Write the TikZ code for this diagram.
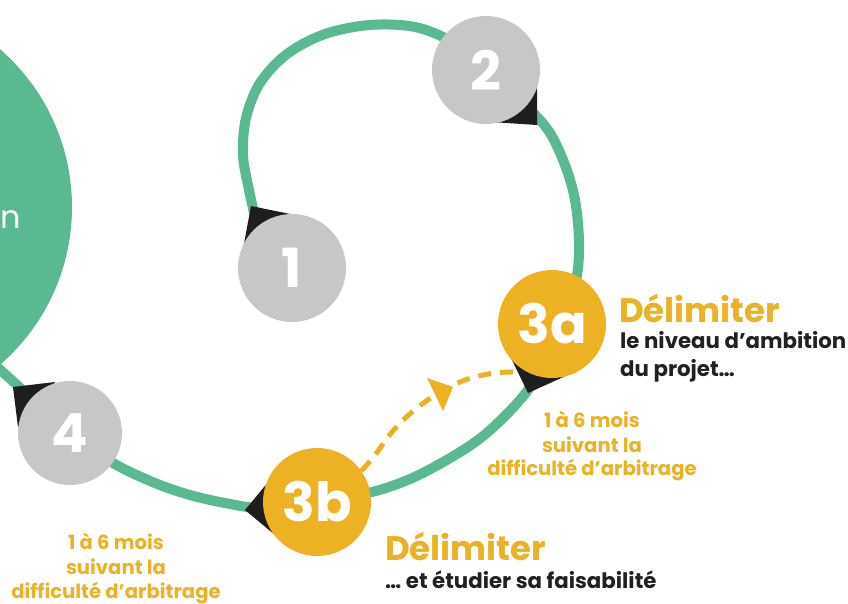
\documentclass[tikz,border=0pt]{standalone}
\usepackage{fontspec}
\setmainfont{Poppins}
\usetikzlibrary{backgrounds}
\definecolor{vert}{RGB}{91,185,145}
\definecolor{jaune}{RGB}{237,177,36}
\definecolor{gris}{RGB}{199,199,197}
\definecolor{noir}{RGB}{30,30,30}
\definecolor{texte}{RGB}{33,33,33}
\begin{document}
\begin{tikzpicture}[x=1pt,y=-1pt,
  num/.style={circle, minimum size=108pt, inner sep=0pt, text=white, font=\bfseries\fontsize{54}{54}\selectfont},
  gline/.style={draw=vert, line width=10pt},
  dline/.style={draw=jaune, line width=5pt, dash pattern=on 13pt off 9pt},
  tri/.style={fill=noir},
  ytri/.style={fill=jaune},
  titre/.style={anchor=base west, inner sep=0pt, text=jaune, font=\bfseries\fontsize{34}{34}\selectfont},
  desc/.style={anchor=base west, inner sep=0pt, text=texte, font=\bfseries\fontsize{21.3}{21.3}\selectfont},
  duree/.style={anchor=base, inner sep=0pt, text=jaune, font=\bfseries\fontsize{19.6}{19.6}\selectfont}]
\useasboundingbox (0,0) rectangle (848,604);

% big partial circle
\node[circle, fill=vert, minimum size=418pt, inner sep=0pt] (big) at (-137,207) {};
\node[anchor=base east, inner sep=0pt, text=white, font=\fontsize{32}{32}\selectfont] (ntext) at (21,228) {n};

% step circles
\node[num, fill=gris] (c1) at (292,268) {1};
\node[num, fill=gris] (c2) at (486,70) {2};
\node[num, fill=jaune] (c3a) at (552,324) {3a};
\node[num, fill=jaune] (c3b) at (317,502) {3b};
\node[num, fill=gris, minimum size=104pt] (c4) at (70,433) {4};

\begin{scope}[on background layer]
  % green loop 1 -> 2 -> 3a -> 3b -> 4 -> big circle
  \draw[gline] plot[smooth, tension=0.55] coordinates {(c1.130) (249,190) (243,155) (246,118) (260,83) (287,54) (325,34) (370,25) (415,27) (452,42) (c2.center) (520,100) (548,130) (565,165) (575,200) (579,240) (577,275) (566,315) (550,355) (528,390) (505,416) (478,440) (445,461) (410,479) (372,492) (c3b.center) (262,508) (225,503) (190,495) (155,483) (113,463) (c4.center) (28,395) (big.-50)};
  % dashed link 3b -> 3a
  \draw[dline] plot[smooth, tension=0.6] coordinates {(c3b.35) (375,455) (392,432) (412,412) (437,394) (465,380) (495,373) (c3a.-118)};
  \fill[ytri] (427,378) -- (453,387) -- (443,411) -- cycle;
  % black arrowheads
  \fill[tri] (251,206) -- (295,215) -- (243,249) -- cycle;
  \fill[tri] (537,125) -- (537,80) -- (491,122) -- cycle;
  \fill[tri] (528,393) -- (509,354) -- (570,374) -- cycle;
  \fill[tri] (245,510) -- (274,475) -- (281,540) -- cycle;
  \fill[tri] (13,387) -- (55,382) -- (18,427) -- cycle;
\end{scope}

% texts 3a
\node[titre] (t3a) at (619,322) {Délimiter};
\node[desc] (d3a1) at (620,348) {le niveau d’ambition};
\node[desc] (d3a2) at (620,376) {du projet…};
\node[duree] (m3a1) at (592,427) {1 à 6 mois};
\node[duree] (m3a2) at (592,452) {suivant la};
\node[duree] (m3a3) at (592,475) {difficulté d’arbitrage};

% texts 3b
\node[titre] (t3b) at (385,560) {Délimiter};
\node[desc] (d3b1) at (385,588) {… et étudier sa faisabilité};
\node[duree] (m4a) at (116,549) {1 à 6 mois};
\node[duree] (m4b) at (116,574) {suivant la};
\node[duree] (m4c) at (116,598) {difficulté d’arbitrage};
\end{tikzpicture}
\end{document}
